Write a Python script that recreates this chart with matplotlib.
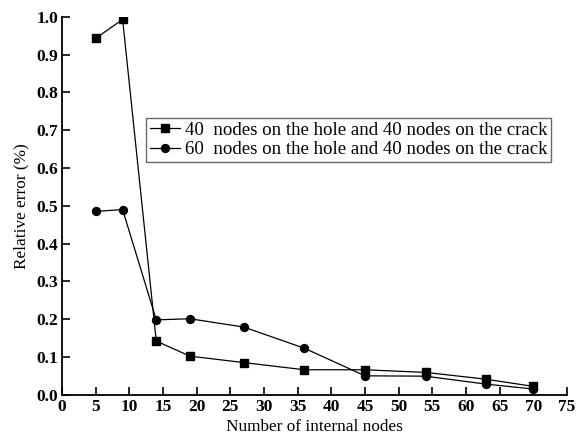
import matplotlib.pyplot as plt

plt.rcParams['font.family'] = ['Liberation Serif', 'DejaVu Serif']

nodes = [5, 9, 14, 19, 27, 36, 45, 54, 63, 70]
err_40 = [0.943, 0.993, 0.142, 0.102, 0.085, 0.066, 0.066, 0.059, 0.041, 0.022]
err_60 = [0.485, 0.490, 0.198, 0.201, 0.179, 0.123, 0.050, 0.049, 0.028, 0.015]
label_40 = '40  nodes on the hole and 40 nodes on the crack'
label_60 = '60  nodes on the hole and 40 nodes on the crack'

fig = plt.figure(figsize=(5.77, 4.42), dpi=100)
ax = fig.add_axes([0.1075, 0.107, 0.875, 0.855])

ax.plot(nodes, err_40, color='black', lw=0.9, marker='s', ms=5.3, label=label_40)
ax.plot(nodes, err_60, color='black', lw=0.9, marker='o', ms=5.7, label=label_60)

ax.set_xlim(0, 75)
ax.set_ylim(0, 1.0)
ax.set_xticks(range(0, 76, 5))
ax.set_yticks([i / 10 for i in range(11)])
ax.set_yticklabels(['%.1f' % (i / 10) for i in range(11)])

for s in ['top', 'right']:
    ax.spines[s].set_visible(False)
for s in ['left', 'bottom']:
    ax.spines[s].set_linewidth(1.3)

ax.tick_params(direction='in', length=6, width=1.2, labelsize=12.5, pad=3)
for t in ax.get_xticklabels() + ax.get_yticklabels():
    t.set_fontweight('bold')

ax.set_xlabel('Number of internal nodes', fontsize=12.4, labelpad=3)
ax.set_ylabel('Relative error (%)', fontsize=12.4, labelpad=5)

leg = ax.legend(loc='upper left', bbox_to_anchor=(0.166, 0.732), fontsize=13.6,
                frameon=True, fancybox=False, edgecolor='#444444',
                handlelength=1.6, handletextpad=0.25, borderpad=0.2,
                labelspacing=0.1, borderaxespad=0)
leg.get_frame().set_linewidth(1.0)

fig.savefig('out.png', dpi=100)
